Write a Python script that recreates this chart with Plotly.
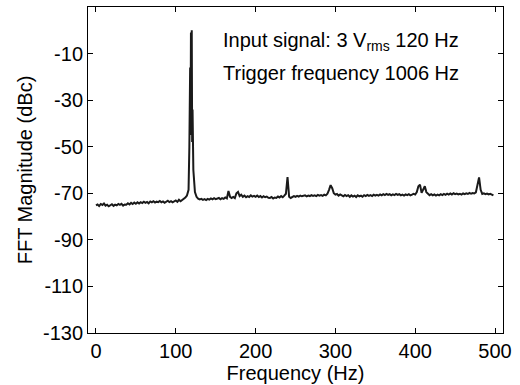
import plotly.graph_objects as go

freq_hz = [
    0, 2, 4, 6, 8, 10, 12, 14, 16, 18,
    20, 22, 24, 26, 28, 30, 32, 34, 36, 38,
    40, 42, 44, 46, 48, 50, 52, 54, 56, 58,
    60, 62, 64, 66, 68, 70, 72, 74, 76, 78,
    80, 82, 84, 86, 88, 90, 92, 94, 96, 98,
    100, 102, 104, 106, 108, 110, 112, 114, 116, 117,
    118, 118.5, 119, 119.5, 120, 120.5, 121, 122, 123, 124,
    126, 128, 130,
    132, 134, 136, 138, 140, 142, 144, 146, 148, 150,
    152, 154, 156, 158, 160, 162, 164, 166, 168, 170,
    172, 174, 176, 178, 180, 182, 184, 186, 188, 190,
    192, 194, 196, 198, 200, 202, 204, 206, 208, 210,
    212, 214, 216, 218, 220, 222, 224, 226, 228, 230,
    232, 234, 236, 238, 240, 242, 244, 246, 248, 250,
    252, 254, 256, 258, 260, 262, 264, 266, 268, 270,
    272, 274, 276, 278, 280, 282, 284, 286, 288, 290,
    292, 294, 296, 298, 300, 302, 304, 306, 308, 310,
    312, 314, 316, 318, 320, 322, 324, 326, 328, 330,
    332, 334, 336, 338, 340, 342, 344, 346, 348, 350,
    352, 354, 356, 358, 360, 362, 364, 366, 368, 370,
    372, 374, 376, 378, 380, 382, 384, 386, 388, 390,
    392, 394, 396, 398, 400, 402, 404, 406, 408, 410,
    412, 414, 416, 418, 420, 422, 424, 426, 428, 430,
    432, 434, 436, 438, 440, 442, 444, 446, 448, 450,
    452, 454, 456, 458, 460, 462, 464, 466, 468, 470,
    472, 474, 476, 478, 480, 482, 484, 486, 488, 490,
    492, 494, 496, 498,
]

magnitude_dbc = [
    -75.2, -74.8, -75.5, -74.6, -75.0, -74.4, -75.3, -74.9, -75.6, -75.1,
    -74.7, -75.4, -74.9, -75.2, -74.6, -75.0, -74.5, -75.3, -74.8, -74.9,
    -74.3, -74.8, -74.1, -74.6, -74.0, -74.5, -73.9, -74.4, -73.8, -74.2,
    -73.6, -74.1, -73.7, -74.3, -73.5, -73.9, -73.4, -74.0, -73.6, -73.8,
    -73.3, -73.9, -73.5, -74.1, -73.6, -73.2, -73.8, -73.4, -73.9, -73.3,
    -73.1, -73.7, -72.8, -73.4, -72.9, -72.2, -71.8, -71.0, -68.5, -50.0,
    -16.0, -45.0, -1.0, -30.0, 0.0, -48.0, -34.0, -60.0, -68.0, -69.5,
    -71.5, -72.3, -72.6,
    -72.4, -72.8, -72.5, -72.9, -72.4, -72.7, -72.2, -72.6, -72.1, -72.5,
    -72.3, -72.0, -72.6, -72.1, -72.4, -71.8, -72.2, -69.0, -71.5, -72.0,
    -71.6, -72.1, -70.0, -69.4, -71.2, -70.6, -71.5, -71.0, -71.7, -71.2,
    -71.6, -70.9, -71.4, -71.1, -71.5, -71.0, -71.6, -71.2, -71.8, -71.3,
    -71.7, -71.4, -71.9, -72.0, -71.6, -72.2, -71.8, -72.0, -71.4, -71.8,
    -71.2, -71.7, -71.0, -70.2, -63.0, -71.5, -72.0, -71.6, -71.2, -71.5,
    -71.1, -71.4, -71.0, -71.3, -71.2, -70.9, -71.3, -71.0, -71.2, -70.8,
    -71.1, -70.9, -71.2, -70.7, -71.0, -70.8, -71.1, -70.6, -70.9, -70.2,
    -68.5, -66.5, -67.8, -70.0, -70.6, -70.3, -71.0, -70.5, -70.9, -71.3,
    -70.7, -71.2, -70.8, -71.5, -70.9, -71.4, -71.0, -71.6, -70.9, -71.3,
    -71.0, -71.5, -70.8, -71.2, -70.7, -71.1, -70.8, -71.2, -70.6, -71.0,
    -70.7, -71.0, -70.5, -70.9, -70.4, -70.8, -70.3, -70.7, -70.4, -70.9,
    -70.5, -70.8, -70.3, -70.7, -70.4, -70.9, -70.6, -71.0, -70.5, -70.8,
    -70.4, -70.9, -70.6, -70.2, -70.5, -69.5, -67.0, -66.3, -69.8, -68.5,
    -67.0, -69.5, -70.3, -70.8, -70.4, -70.9, -70.5, -71.0, -70.6, -70.9,
    -70.4, -70.8, -70.3, -70.7, -70.2, -70.6, -70.1, -70.5, -70.0, -70.4,
    -70.1, -70.5, -70.2, -70.6, -70.1, -70.4, -70.0, -70.3, -69.8, -70.2,
    -69.9, -70.1, -69.6, -66.5, -63.2, -68.5, -70.3, -70.0, -70.4, -70.1,
    -70.5, -70.2, -70.6, -70.9,
]

x_ticks = [0, 100, 200, 300, 400, 500]
x_tick_labels = ["0", "100", "200", "300", "400", "500"]
y_ticks = [-130, -110, -90, -70, -50, -30, -10]
y_tick_labels = ["-130", "-110", "-90", "-70", "-50", "-30", "-10"]
annotation_lines = ["Input signal: 3 V<sub>rms</sub> 120 Hz", "Trigger frequency 1006 Hz"]

FONT = "Liberation Sans, Arial, sans-serif"

fig = go.Figure()
fig.add_trace(go.Scatter(
    x=freq_hz, y=magnitude_dbc, mode="lines",
    line=dict(color="#1a1a1a", width=2),
    showlegend=False,
))

axis_common = dict(
    showline=True, linecolor="black", linewidth=1, mirror="ticks",
    ticks="inside", ticklen=5, tickcolor="black", tickwidth=1,
    showgrid=False, zeroline=False, automargin=False,
    tickfont=dict(family=FONT, size=20, color="black"),
)

fig.update_xaxes(
    range=[-10, 510], tickvals=x_ticks, ticktext=x_tick_labels,
    title=dict(text="Frequency (Hz)", font=dict(family=FONT, size=20, color="black"), standoff=0),
    **axis_common,
)
fig.update_yaxes(
    range=[-130, 10], tickvals=y_ticks, ticktext=y_tick_labels,
    title=dict(text="FFT Magnitude (dBc)", font=dict(family=FONT, size=20, color="black"), standoff=4),
    **axis_common,
)

ann_y = [-4.9, -18.5]
for txt, yy in zip(annotation_lines, ann_y):
    fig.add_annotation(
        x=157, y=yy, xref="x", yref="y", text=txt, showarrow=False,
        xanchor="left", yanchor="middle",
        font=dict(family=FONT, size=20, color="black"),
    )

fig.update_layout(
    width=520, height=385,
    margin=dict(l=88, r=17, t=7, b=52, autoexpand=False),
    paper_bgcolor="white", plot_bgcolor="white",
)

fig.write_html(
    "out.html",
    config={"displayModeBar": False},
    post_script="document.body.style.margin='0';",
)
